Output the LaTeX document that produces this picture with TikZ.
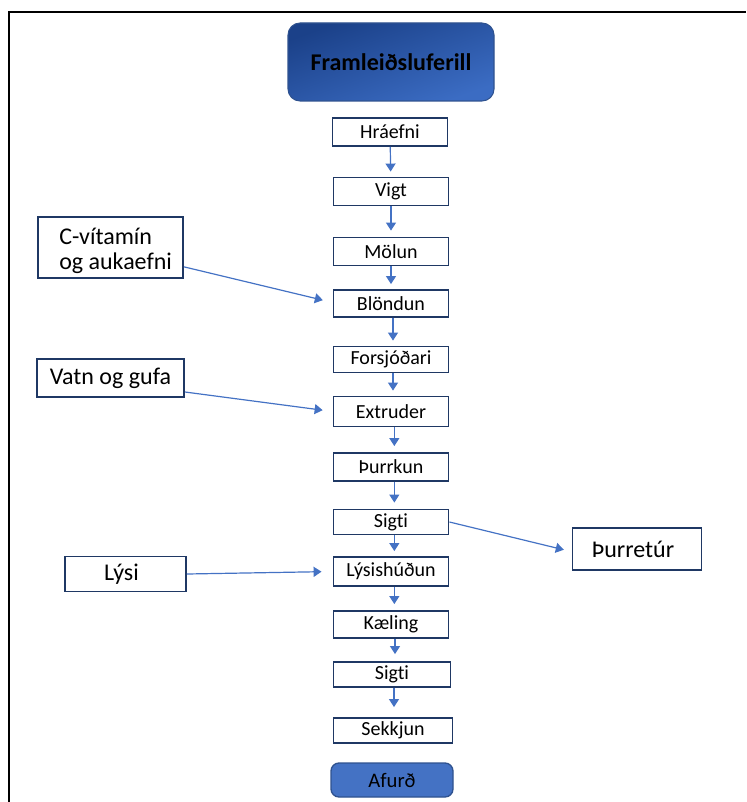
\documentclass[tikz,border=0pt]{standalone}
\usepackage{fontspec}
\setmainfont{Carlito}[Ligatures=NoCommon]
\usetikzlibrary{arrows.meta}
\definecolor{navy}{HTML}{1F3864}
\definecolor{arrowblue}{HTML}{4472C4}
\definecolor{titleA}{HTML}{1B4189}
\definecolor{titleB}{HTML}{3B6CC3}
\definecolor{afurd}{HTML}{4472C4}
\definecolor{afurdB}{HTML}{2F528F}
\tikzset{
  procbox/.style={draw=navy, line width=1.4pt, fill=white, minimum width=115*0.75pt, minimum height=28*0.75pt, inner sep=0pt, font=\fontsize{15}{17}\selectfont},
  sidebox/.style={draw=navy, line width=1.4pt, fill=white, inner sep=0pt, font=\fontsize{18}{19}\selectfont},
  flow/.style={draw=arrowblue, line width=0.9pt, -{Triangle[length=6pt,width=7.5pt]}},
  frameline/.style={draw=black, line width=1.5pt}
}
\begin{document}
\begin{tikzpicture}[x=0.75pt,y=-0.75pt]
\useasboundingbox (0,0) rectangle (746,802);
% frame
\coordinate (fa) at (9,802);
\coordinate (fb) at (9,12);
\coordinate (fc) at (746,12);
\draw[frameline] (fa) -- (fb) -- (fc);
% title
\node[draw=afurdB, line width=0.8pt, rounded corners=9pt, top color=titleA, bottom color=titleB, shading angle=20,
      minimum width=206*0.75pt, minimum height=78*0.75pt, inner sep=0pt,
      font=\fontsize{18}{20}\selectfont\bfseries] (title) at (391,62) {Framleiðsluferill};
% process boxes
\node[procbox] (hra) at (390,132) {Hráefni};
\node[procbox] (vigt) at (391,191.5) {Vigt};
\node[procbox] (mol) at (391,251.5) {Mölun};
\node[procbox, minimum height=27*0.75pt] (blo) at (391,303.5) {Blöndun};
\node[procbox, minimum height=26*0.75pt] (fors) at (391,359.5) {Forsjóðari};
\node[procbox, minimum height=30*0.75pt] (ext) at (391,411.5) {Extruder};
\node[procbox] (thu) at (391,467) {Þurrkun};
\node[procbox, minimum height=25*0.75pt] (sig) at (391,522) {Sigti};
\node[procbox, minimum height=29*0.75pt] (lys) at (391,571.5) {Lýsishúðun};
\node[procbox, minimum height=27*0.75pt] (kael) at (391,624.5) {Kæling};
\node[procbox, minimum width=117*0.75pt, minimum height=25*0.75pt] (sig2) at (392,674.5) {Sigti};
\node[procbox, minimum width=119*0.75pt, minimum height=25*0.75pt] (sekk) at (393,730.5) {Sekkjun};
\node[draw=afurdB, line width=1pt, fill=afurd, text=black, rounded corners=6pt, minimum width=122*0.75pt, minimum height=34*0.75pt, inner sep=0pt,
      font=\fontsize{15.5}{17}\selectfont] (afu) at (392,780) {Afurð};
% side boxes
\node[sidebox, minimum width=145*0.75pt, minimum height=61*0.75pt] (cvit) at (110.5,247.5) {};
\node[font=\fontsize{18}{19}\selectfont, anchor=north west, inner sep=0pt, align=left] (cvittxt) at (59,226)
  {\strut C-vítamín\\\strut og aukaefni};
\node[sidebox, minimum width=147*0.75pt, minimum height=38*0.75pt] (vatn) at (110.5,378) {Vatn og gufa};
\node[sidebox, minimum width=121*0.75pt, minimum height=35*0.75pt] (lysi) at (125.5,574) {\hspace*{-6pt}Lýsi};
\node[sidebox, minimum width=129*0.75pt, minimum height=42*0.75pt] (thurr) at (637,549) {\hspace*{-6pt}Þurretúr};
% vertical flow
\draw[flow, shorten >=5*0.75pt] (hra) -- (vigt);
\draw[flow, shorten >=6*0.75pt] (vigt) -- (mol);
\draw[flow, shorten >=5*0.75pt] (mol) -- (blo);
\draw[flow, shorten >=5*0.75pt] ([xshift=1.5pt]blo.south) -- ([xshift=1.5pt]fors.north);
\draw[flow, shorten >=5*0.75pt] ([xshift=1.5pt]fors.south) -- ([xshift=1.5pt]ext.north);
\draw[flow, shorten >=6*0.75pt] ([xshift=2.5pt]ext.south) -- ([xshift=2.5pt]thu.north);
\draw[flow, shorten >=6*0.75pt] ([xshift=2.5pt]thu.south) -- ([xshift=2.5pt]sig.north);
\draw[flow, shorten >=5*0.75pt] ([xshift=2.5pt]sig.south) -- ([xshift=2.5pt]lys.north);
\draw[flow, shorten >=6*0.75pt] ([xshift=2.5pt]lys.south) -- ([xshift=2.5pt]kael.north);
\draw[flow, shorten >=7*0.75pt] ([xshift=3pt]kael.south) -- ([xshift=2.25pt]sig2.north);
\draw[flow, shorten >=10*0.75pt] ([xshift=1.5pt]sig2.south) -- ([xshift=0.75pt]sekk.north);
% side flows
\draw[flow, shorten >=10*0.75pt] ([yshift=-14.5pt]cvit.east) -- ([yshift=0.75pt]blo.west);
\draw[flow, shorten >=10*0.75pt] ([yshift=-10.5pt]vatn.east) -- (ext.west);
\draw[flow, shorten >=11*0.75pt] (lysi.east) -- (lys.west);
\draw[flow, shorten >=8*0.75pt] (sig.east) -- ([yshift=-2pt]thurr.west);
\end{tikzpicture}
\end{document}
